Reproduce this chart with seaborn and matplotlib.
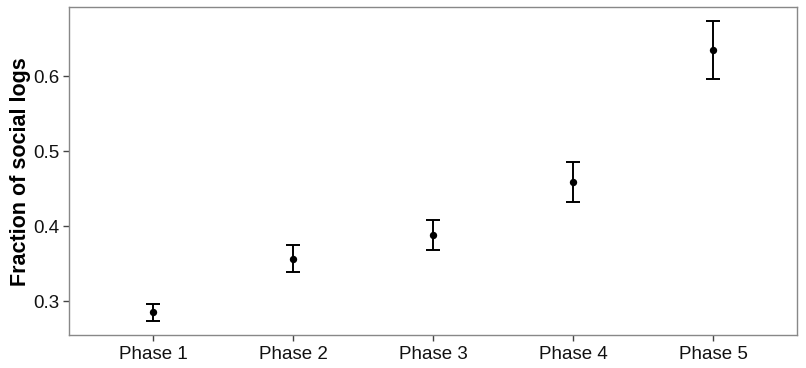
import matplotlib
matplotlib.use('Agg')
import matplotlib.pyplot as plt
import seaborn as sns
import pandas as pd

phases = ['Phase 1', 'Phase 2', 'Phase 3', 'Phase 4', 'Phase 5']
fraction = [0.2857, 0.3568, 0.3888, 0.4595, 0.6351]
upper = [0.2964, 0.3746, 0.4088, 0.4853, 0.6735]
lower = [0.2742, 0.3395, 0.3688, 0.4328, 0.5968]
yticks = [0.3, 0.4, 0.5, 0.6]

df = pd.DataFrame({'phase': phases, 'fraction': fraction, 'upper': upper, 'lower': lower})

sns.set_style('white')
plt.rcParams['font.family'] = ['Liberation Sans', 'DejaVu Sans']

fig = plt.figure(figsize=(8.06, 3.68), dpi=100)
ax = fig.add_axes([0.086, 0.0897, 0.903, 0.8904])

# error bars first, points on top
ax.errorbar(df['phase'], df['fraction'],
            yerr=[df['fraction'] - df['lower'], df['upper'] - df['fraction']],
            fmt='none', ecolor='black', elinewidth=1.4, capsize=4.8, capthick=1.4, zorder=2)
sns.scatterplot(data=df, x='phase', y='fraction', ax=ax, color='black', s=28,
                edgecolor='black', linewidth=0, zorder=3)

ax.set_xlim(-0.6, 4.6)
ax.set_ylim(0.255, 0.692)
ax.set_yticks(yticks)
ax.set_yticklabels([f'{t:.1f}' for t in yticks])

ax.set_xlabel('')
ax.set_ylabel('Fraction of social logs', fontsize=15.5, fontweight='bold',
              color='black', labelpad=2)

for spine in ax.spines.values():
    spine.set_color('#888888')
    spine.set_linewidth(1.0)
ax.tick_params(axis='both', which='major', direction='out', length=4, width=1,
               color='#444444', labelsize=13.5, labelcolor='#111111', pad=3,
               bottom=True, left=True)
ax.tick_params(axis='x', pad=4)

fig.savefig('out.png', dpi=100)
